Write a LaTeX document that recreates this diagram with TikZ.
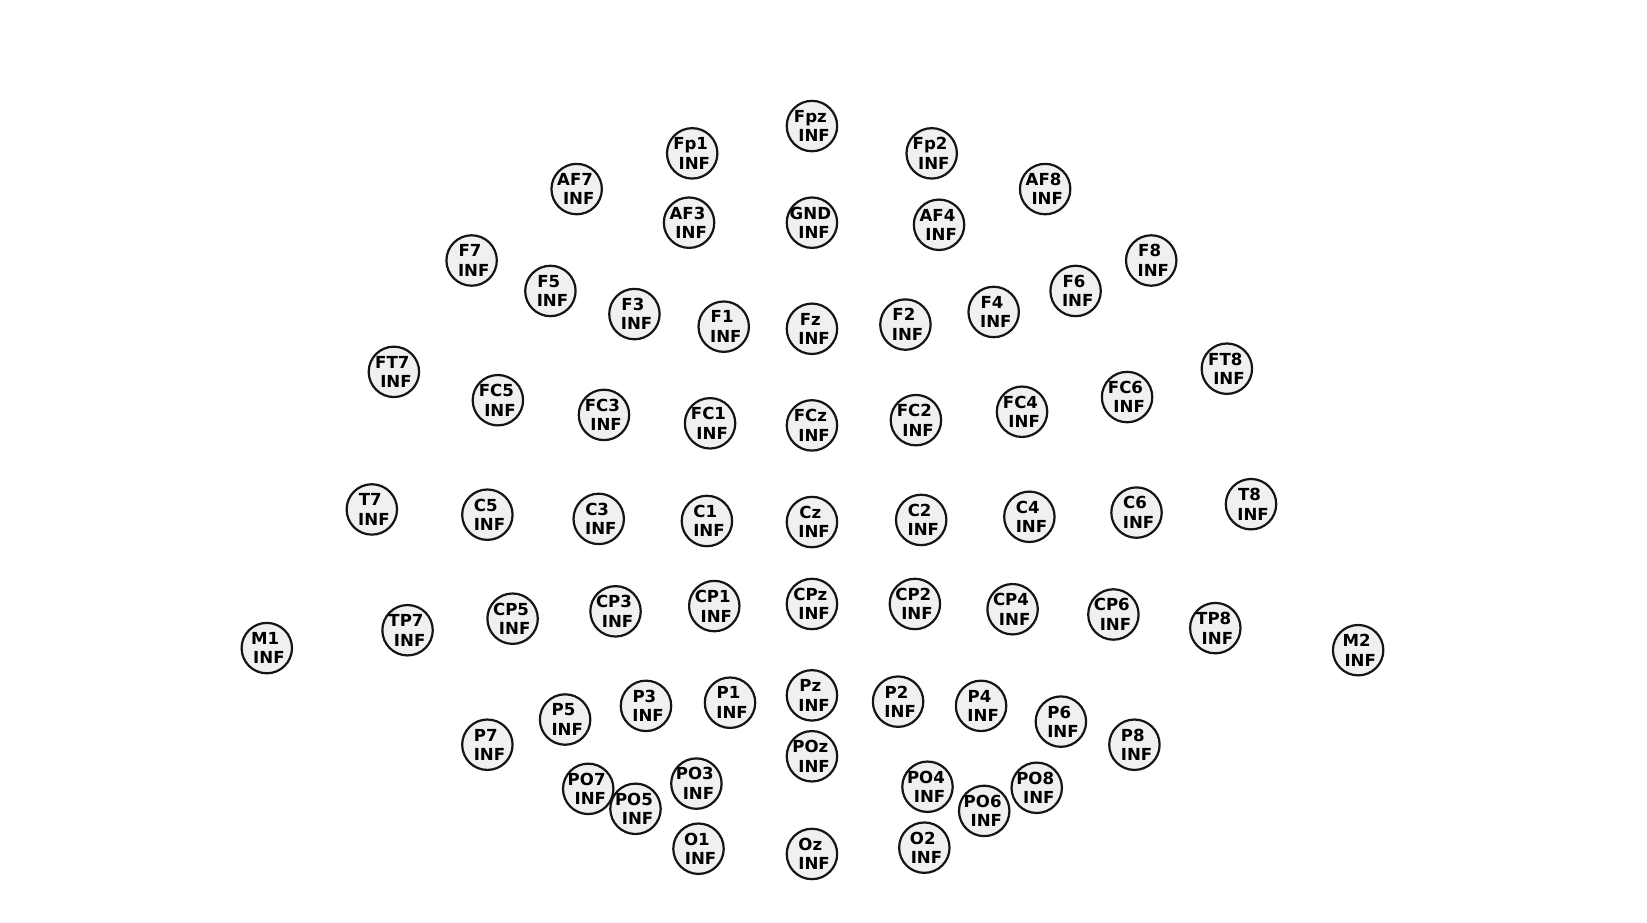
\documentclass[tikz,border=0pt]{standalone}
\usepackage{fontspec}
\setmainfont{DejaVu Sans}
\definecolor{elfill}{HTML}{F0F0F0}
\definecolor{elline}{HTML}{151515}
\tikzset{
  electrode/.style={circle, draw=elline, fill=elfill, line width=1.05pt,
    minimum size=24pt, inner sep=0pt, align=center,
    font=\fontsize{7.9}{9.3}\selectfont\bfseries}
}
\newcommand{\elec}[3]{\node[electrode] (#1) at (#2,#3)
  {\hspace*{-1.5pt}#1\\\hspace*{2pt}INF};}
\begin{document}
\begin{tikzpicture}[x=0.5pt,y=-0.5pt]
\useasboundingbox (0,0) rectangle (1568,878);
\elec{Fpz}{773}{120}
\elec{Fp1}{659}{146}
\elec{Fp2}{887}{146}
\elec{AF7}{549}{180}
\elec{AF8}{995}{180}
\elec{AF3}{656}{212}
\elec{GND}{773}{212}
\elec{AF4}{894}{214}
\elec{F7}{449}{248}
\elec{F8}{1096}{248}
\elec{F5}{524}{277}
\elec{F6}{1024}{277}
\elec{F3}{604}{299}
\elec{F4}{946}{297}
\elec{F1}{689}{311}
\elec{Fz}{773}{313}
\elec{F2}{862}{309}
\elec{FT7}{375}{354}
\elec{FT8}{1168}{351}
\elec{FC5}{474}{381}
\elec{FC6}{1073}{378}
\elec{FC3}{575}{395}
\elec{FC4}{973}{392}
\elec{FC1}{676}{403}
\elec{FCz}{773}{405}
\elec{FC2}{872}{400}
\elec{T7}{354}{485}
\elec{T8}{1191}{480}
\elec{C5}{464}{490}
\elec{C6}{1082}{488}
\elec{C3}{570}{494}
\elec{C4}{980}{492}
\elec{C1}{673}{496}
\elec{Cz}{773}{497}
\elec{C2}{877}{495}
\elec{M1}{254}{617}
\elec{M2}{1293}{619}
\elec{TP7}{388}{600}
\elec{TP8}{1157}{598}
\elec{CP5}{488}{589}
\elec{CP6}{1060}{585}
\elec{CP3}{586}{582}
\elec{CP4}{964}{580}
\elec{CP1}{680}{577}
\elec{CPz}{773}{575}
\elec{CP2}{871}{575}
\elec{P7}{464}{709}
\elec{P8}{1080}{709}
\elec{P5}{538}{685}
\elec{P6}{1010}{687}
\elec{P3}{615}{672}
\elec{P4}{934}{672}
\elec{P1}{695}{669}
\elec{Pz}{773}{662}
\elec{P2}{855}{668}
\elec{POz}{773}{720}
\elec{PO7}{560}{751}
\elec{PO8}{987}{750}
\elec{PO5}{605}{770}
\elec{PO6}{937}{772}
\elec{PO3}{663}{746}
\elec{PO4}{883}{749}
\elec{O1}{665}{808}
\elec{Oz}{773}{813}
\elec{O2}{880}{807}
\end{tikzpicture}
\end{document}
